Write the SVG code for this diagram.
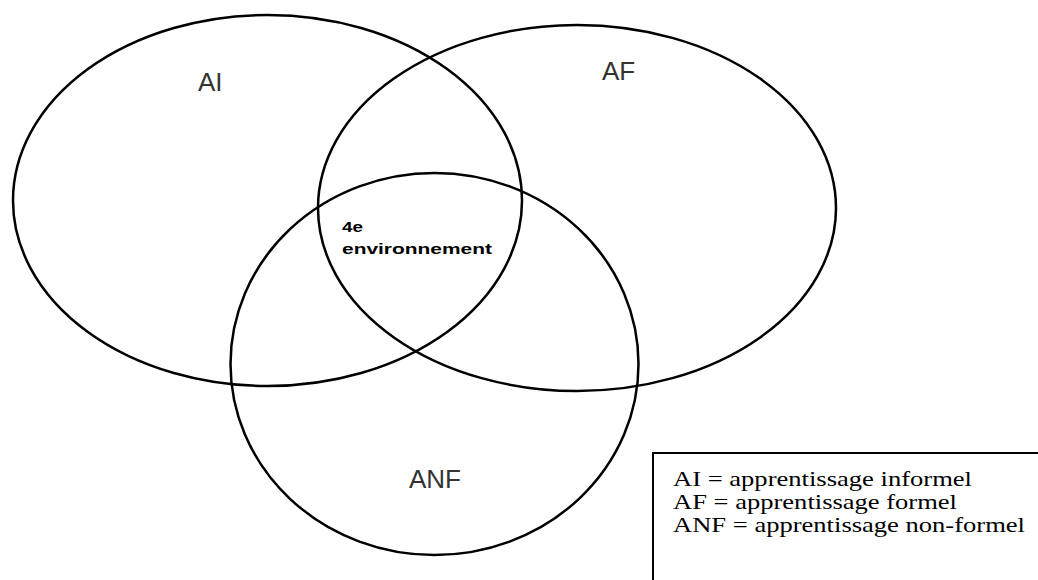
<svg xmlns="http://www.w3.org/2000/svg" width="1038" height="580" viewBox="0 0 1038 580">
<style>
.set{fill:none;stroke:#000;stroke-width:2.5}
.lbl{font-family:"Liberation Sans",Arial,sans-serif;font-size:26px;fill:#333}
.mid{font-family:"Liberation Sans",Arial,sans-serif;font-size:14px;font-weight:bold;fill:#000}
.leg{font-family:"Liberation Serif","Times New Roman",serif;font-size:22px;fill:#000}
</style>
<rect width="1038" height="580" fill="#fff"/>
<g id="ai">
<ellipse class="set" cx="267.5" cy="200.5" rx="254.5" ry="185.5"/>
<text class="lbl" x="198" y="91">AI</text>
</g>
<g id="af">
<ellipse class="set" cx="577" cy="208" rx="259" ry="183"/>
<text class="lbl" x="602" y="80">AF</text>
</g>
<g id="anf">
<ellipse class="set" cx="434.5" cy="364" rx="204" ry="191"/>
<text class="lbl" x="409" y="488">ANF</text>
</g>
<g id="centre">
<text class="mid" x="342" y="232" textLength="21" lengthAdjust="spacingAndGlyphs">4e</text>
<text class="mid" x="342" y="254" textLength="150" lengthAdjust="spacingAndGlyphs">environnement</text>
</g>
<g id="legend">
<rect x="653" y="453" width="420" height="160" fill="none" stroke="#000" stroke-width="2"/>
<text class="leg" x="673" y="486" textLength="299" lengthAdjust="spacingAndGlyphs">AI = apprentissage informel</text>
<text class="leg" x="673" y="509" textLength="284" lengthAdjust="spacingAndGlyphs">AF = apprentissage formel</text>
<text class="leg" x="673" y="532" textLength="352" lengthAdjust="spacingAndGlyphs">ANF = apprentissage non-formel</text>
</g>
<g id="connectors"/>
</svg>
